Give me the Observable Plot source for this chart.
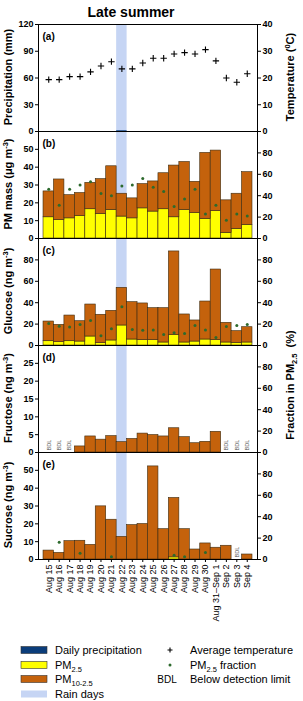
<!DOCTYPE html>
<html><head><meta charset="utf-8">
<script src="https://cdn.jsdelivr.net/npm/d3@7"></script>
<script src="https://cdn.jsdelivr.net/npm/@observablehq/plot@0.6"></script>
<style>
body{margin:0;background:#fff;}
#wrap{position:relative;width:303px;height:701px;overflow:hidden;background:#fff;}
#wrap > svg{position:absolute;left:0;margin:0;}
</style></head><body><div id="wrap"></div>
<script>
const dates = ["Aug 15","Aug 16","Aug 17","Aug 18","Aug 19","Aug 20","Aug 21","Aug 22","Aug 23","Aug 24","Aug 25","Aug 26","Aug 27","Aug 28","Aug 29","Aug 30","Aug 31–Sep 1","Sep 2","Sep 3","Sep 4"];
const rainDays = ["Aug 22"];
const precip = [0,0,0,0,0,0,0,0.8,0,0,0,0,0,0,0,0,0,0,0,0];
const temp = [19.4,19.4,20.5,20.5,22.3,24.5,26.1,23.4,23.4,25.6,27.4,27.4,29.0,29.5,29.0,30.6,26.4,20.0,18.4,21.6];
const pm10 = [26.4,33.1,24.3,25.5,31.2,33.3,40.5,25.1,22.5,30.5,32.0,36.6,40.9,42.9,31.8,48.0,49.3,21.4,25.1,37.2];
const pm25 = [11.9,10.4,11.3,12.6,16.4,13.8,16.0,12.3,11.3,16.9,15.1,16.4,11.9,16.0,14.3,11.0,15.4,3.2,5.4,7.6];
const pmFrac = [46,31,46,50,53,42,40,49,50,56,48,44,30,37,46,23,31,17,23,21];
const glu = [22.4,19.3,28.0,22.7,38.3,28.7,32.4,53.9,40.5,39.3,34.9,34.9,87.9,29.0,23.4,41.1,71.0,21.2,13.4,17.1];
const gluPM25 = [4.0,3.1,4.0,3.7,8.4,2.2,4.7,18.7,5.6,5.0,5.0,2.8,9.7,2.8,3.7,5.6,5.0,2.8,2.5,2.8];
const gluFrac = [20.6,18.0,17.4,19.6,23.4,9.0,15.6,36.1,15.0,14.3,14.6,10.3,11.8,11.2,18.7,14.6,7.5,17.8,18.7,19.6];
const fru = [null,null,null,1.7,4.5,3.6,4.6,2.9,3.8,5.3,4.9,4.5,6.8,4.3,2.6,3.0,5.8,null,null,null];
const suc = [5.0,3.7,10.3,10.5,8.2,29.8,22.3,12.7,19.3,19.9,52.2,17.0,34.5,17.0,5.6,9.0,6.6,7.7,null,2.8];
const sucPM25 = [0,0,0,0,0,0,0,0,0,0,0,0,1.2,0,0,0,0,0,null,0];
const sucFrac = [null,16.2,null,5.9,null,null,2.5,null,null,null,null,null,4.0,2.5,null,6.5,null,null,null,null];

const rows = dates.map((d,i)=>({date:d, precip:precip[i], temp:temp[i], pm10:pm10[i], pm25:pm25[i], pmFrac:pmFrac[i],
  glu:glu[i], gluPM25:gluPM25[i], gluFrac:gluFrac[i], fru:fru[i], suc:suc[i], sucPM25:sucPM25[i], sucFrac:sucFrac[i]}));

const FONT = "'Liberation Sans', Arial, sans-serif";
const RAIN = "#c6d5f4", YEL = "#ffff00", BROWN = "#c4620c", EDGE = "#3a2a10", GREEN = "#2d6a2d", PRECIP = "#0b3d7a";
const wrap = document.getElementById("wrap");
const H = 107;

function panel(o){
  const mt = 8, mb = o.mb ?? 8;
  const k = o.ymax / o.rmax;
  const marks = [
    Plot.barY(rainDays, {x: d=>d, y1: 0, y2: o.ymax, fill: RAIN}),
    ...o.marks(k),
    Plot.frame({stroke:"black", strokeWidth:1}),
    Plot.axisY({anchor:"left", label:null, ticks:o.yticks, tickSize:3, tickPadding:2, fontWeight:"bold", fontSize:9}),
    Plot.axisY({anchor:"right", label:null, ticks:o.rticks.map(t=>t*k), tickFormat:d=>String(Math.round(d/k)), tickSize:3, tickPadding:2, fontWeight:"bold", fontSize:9}),
    Plot.text([o.label], {frameAnchor:"top-left", dx:4, dy:8, fontWeight:"bold", fontSize:10})
  ];
  if (o.xaxis) marks.push(Plot.axisX({anchor:"bottom", label:null, tickRotate:-90, tickSize:3, tickPadding:2, fontSize:9, fontWeight:"normal"}));
  const svg = Plot.plot({
    width:303, height:H+mt+mb, marginTop:mt, marginBottom:mb, marginLeft:38, marginRight:46,
    style:{background:"transparent", overflow:"visible", fontFamily:FONT, fontSize:"9px", color:"black"},
    x:{type:"band", domain:dates, paddingInner:0, paddingOuter:0.48, round:false, axis:null, label:null},
    y:{domain:[0,o.ymax], axis:null, label:null},
    marks
  });
  svg.style.top = (o.top - mt) + "px";
  wrap.append(svg);
}

const bdl = (key) => Plot.text(rows.filter(d=>d[key]==null), {x:"date", y:0, text:()=>"BDL", rotate:-90, textAnchor:"start", dy:-2, fontSize:5.5, fill:"#555"});

panel({top:24, ymax:120, rmax:40, yticks:[0,30,60,90,120], rticks:[0,10,20,30,40], label:"(a)",
  marks:k=>[
    Plot.barY(rows, {x:"date", y:"precip", fill:PRECIP}),
    Plot.dot(rows, {x:"date", y:d=>d.temp*k, symbol:"plus", r:2.2, stroke:"black", strokeWidth:1.1})
  ]});
panel({top:131, ymax:60, rmax:100, yticks:[0,10,20,30,40,50], rticks:[0,20,40,60,80], label:"(b)",
  marks:k=>[
    Plot.barY(rows, {x:"date", y1:0, y2:"pm25", fill:YEL, stroke:EDGE, strokeWidth:0.6}),
    Plot.barY(rows, {x:"date", y1:"pm25", y2:"pm10", fill:BROWN, stroke:EDGE, strokeWidth:0.6}),
    Plot.dot(rows, {x:"date", y:d=>d.pmFrac*k, r:1.5, fill:GREEN})
  ]});
panel({top:238, ymax:100, rmax:100, yticks:[0,20,40,60,80], rticks:[0,20,40,60,80], label:"(c)",
  marks:k=>[
    Plot.barY(rows, {x:"date", y1:0, y2:"gluPM25", fill:YEL, stroke:EDGE, strokeWidth:0.6}),
    Plot.barY(rows, {x:"date", y1:"gluPM25", y2:"glu", fill:BROWN, stroke:EDGE, strokeWidth:0.6}),
    Plot.dot(rows, {x:"date", y:d=>d.gluFrac*k, r:1.5, fill:GREEN})
  ]});
panel({top:345, ymax:30, rmax:100, yticks:[0,5,10,15,20,25], rticks:[0,20,40,60,80], label:"(d)",
  marks:k=>[
    Plot.barY(rows.filter(d=>d.fru!=null), {x:"date", y1:0, y2:"fru", fill:BROWN, stroke:EDGE, strokeWidth:0.6}),
    bdl("fru")
  ]});
panel({top:452, ymax:60, rmax:100, yticks:[0,10,20,30,40,50], rticks:[0,20,40,60,80], label:"(e)", mb:80, xaxis:true,
  marks:k=>[
    Plot.barY(rows.filter(d=>d.sucPM25>0), {x:"date", y1:0, y2:"sucPM25", fill:YEL, stroke:EDGE, strokeWidth:0.6}),
    Plot.barY(rows.filter(d=>d.suc!=null), {x:"date", y1:"sucPM25", y2:"suc", fill:BROWN, stroke:EDGE, strokeWidth:0.6}),
    Plot.dot(rows.filter(d=>d.sucFrac!=null), {x:"date", y:d=>d.sucFrac*k, r:1.5, fill:GREEN}),
    bdl("suc")
  ]});

// overlay: titles and legend
const ov = d3.select(wrap).append("svg").attr("width",303).attr("height",701)
  .style("position","absolute").style("top","0").style("left","0").attr("font-family",FONT);

function rich(sel, parts, size){
  let shift = 0;
  for (const [s,t] of parts){
    const target = t==="sup" ? -size*0.38 : t==="sub" ? size*0.28 : 0;
    sel.append("tspan").attr("dy", target-shift).attr("font-size", t==="n" ? size : size*0.68).text(s);
    shift = target;
  }
}

ov.append("text").attr("x",131).attr("y",17).attr("text-anchor","middle").attr("font-weight","bold").attr("font-size",14).text("Late summer");

function vtitle(x, cy, parts){
  const t = ov.append("text").attr("transform",`translate(${x},${cy}) rotate(-90)`).attr("text-anchor","middle")
    .attr("font-weight","bold").attr("font-size",11);
  rich(t, parts, 11);
}
vtitle(12, 77, [["Precipitation (mm)","n"]]);
vtitle(12, 184, [["PM mass (\u03bcg m","n"],["-3","sup"],[")","n"]]);
vtitle(12, 291, [["Glucose (ng m","n"],["-3","sup"],[")","n"]]);
vtitle(12, 398, [["Fructose (ng m","n"],["-3","sup"],[")","n"]]);
vtitle(12, 505, [["Sucrose (ng m","n"],["-3","sup"],[")","n"]]);
vtitle(294, 77, [["Temperature (","n"],["0","sup"],["C)","n"]]);
vtitle(294, 385, [["Fraction in PM","n"],["2.5","sub"],["\u00a0\u00a0(%)","n"]]);

// legend
const L = [
  {cy:650, fill:PRECIP, stroke:"#333", parts:[["Daily precipitation","n"]]},
  {cy:665, fill:YEL, stroke:"#333", parts:[["PM","n"],["2.5","sub"]]},
  {cy:679, fill:BROWN, stroke:"#333", parts:[["PM","n"],["10-2.5","sub"]]},
  {cy:694, fill:RAIN, stroke:"none", parts:[["Rain days","n"]]}
];
for (const r of L){
  ov.append("rect").attr("x",21).attr("y",r.cy-3.5).attr("width",26).attr("height",7).attr("fill",r.fill).attr("stroke",r.stroke).attr("stroke-width",0.6);
  rich(ov.append("text").attr("x",55).attr("y",r.cy+4).attr("font-size",11), r.parts, 11);
}
ov.append("path").attr("d","M-2.5,0H2.5M0,-2.5V2.5").attr("transform","translate(170,650)").attr("stroke","black").attr("stroke-width",1.1).attr("fill","none");
ov.append("circle").attr("cx",170).attr("cy",665).attr("r",1.5).attr("fill",GREEN);
ov.append("text").attr("x",167).attr("y",683).attr("text-anchor","middle").attr("font-size",10).text("BDL");
rich(ov.append("text").attr("x",190).attr("y",654).attr("font-size",11), [["Average temperature","n"]], 11);
rich(ov.append("text").attr("x",190).attr("y",669).attr("font-size",11), [["PM","n"],["2.5","sub"],[" fraction","n"]], 11);
rich(ov.append("text").attr("x",190).attr("y",683).attr("font-size",11), [["Below detection limit","n"]], 11);
</script></body></html>
